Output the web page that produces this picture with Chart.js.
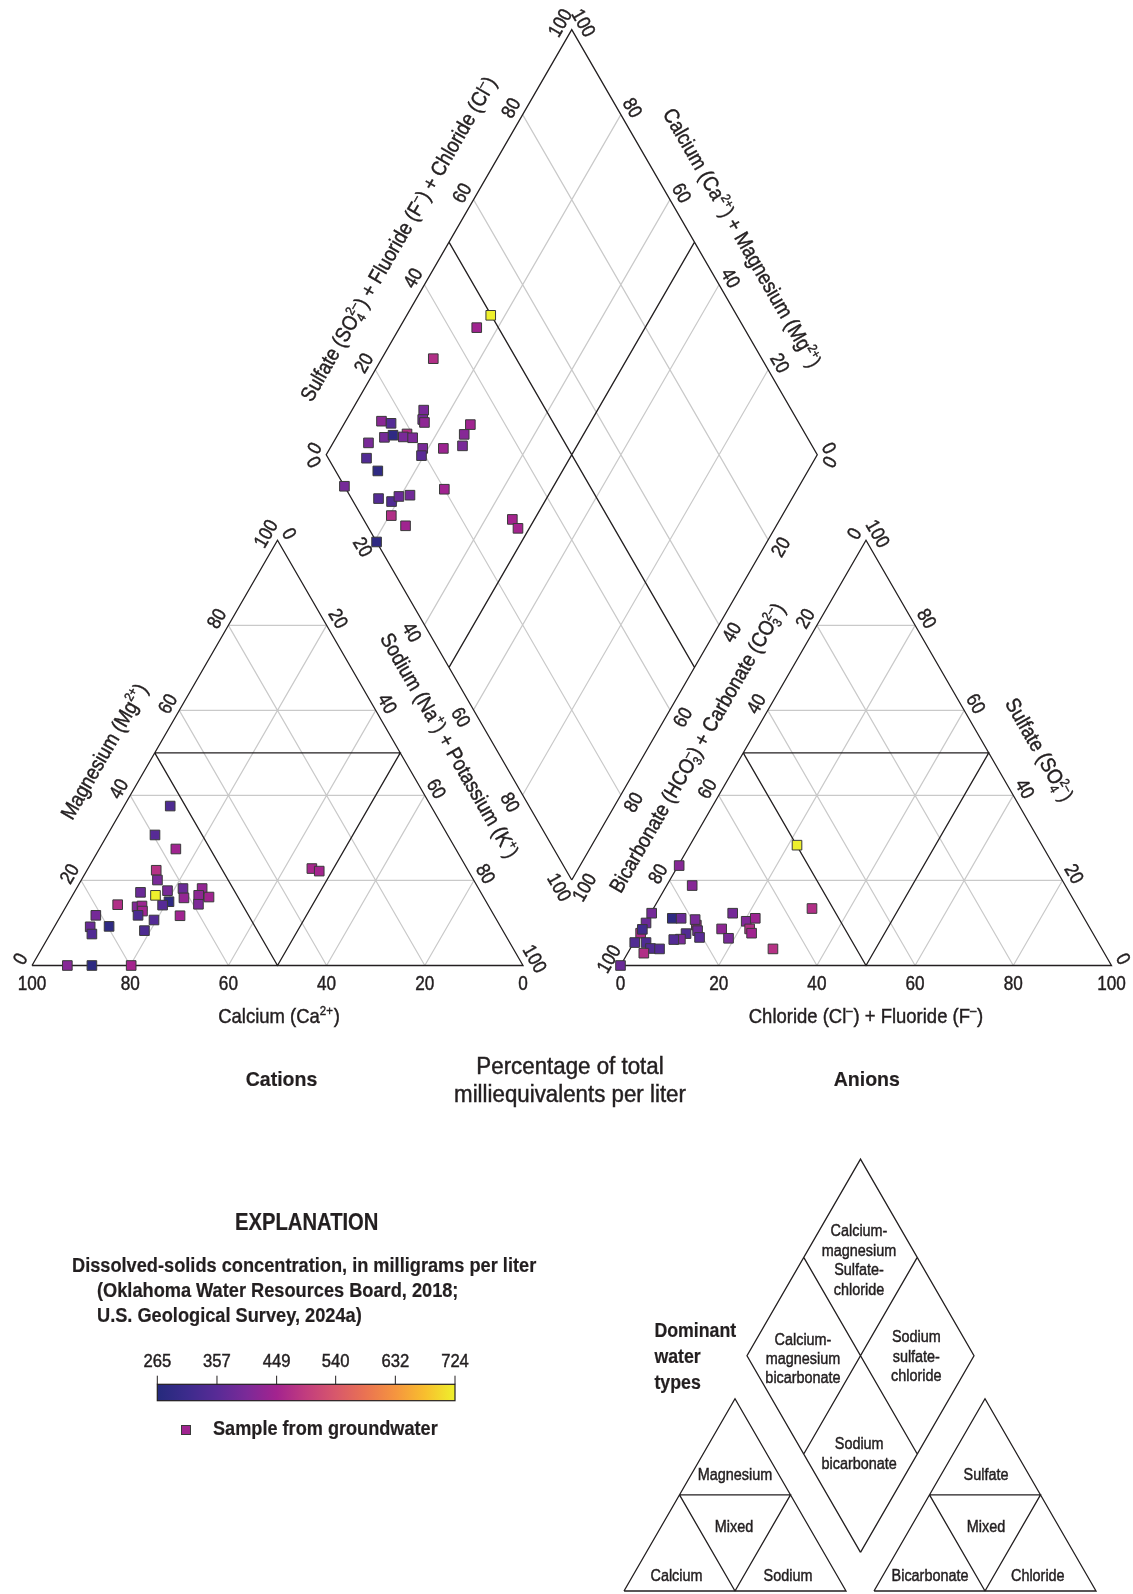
<!DOCTYPE html>
<html>
<head>
<meta charset="utf-8">
<title>Piper diagram – dissolved-solids concentration</title>
<script src="https://cdn.jsdelivr.net/npm/chart.js@4.4.1/dist/chart.umd.min.js"></script>
<style>
  html, body { margin: 0; padding: 0; background: #fff; }
  #piper { display: block; }
</style>
</head>
<body>
<canvas id="piper" width="1133" height="1594"></canvas>
<script>
/* Piper diagram of groundwater samples, coloured by dissolved solids.
   All values are percent of total milliequivalents per liter. */

// ---- cation triangle: magnesium and sodium + potassium (calcium is the rest)
const cationMg  = [37.5, 30.7, 27.4, 22.4, 20.1, 17.2, 17.6, 18.1, 18.1, 15.9, 16.5, 16.1, 14.4, 15.0, 14.2, 14.3,
                   13.8, 14.0, 12.8, 11.8, 10.7, 11.7, 11.8, 9.1, 7.4, 9.2, 8.2, 0, 0, 0, 22.8, 22.2, 16.5];
const cationNaK = [9.4, 9.7, 15.6, 14.1, 15.5, 13.5, 18.8, 21.7, 25.6, 23.0, 25.7, 28.0, 26.7, 20.4, 19.5, 10.3,
                   14.5, 15.4, 16.1, 15.7, 19.5, 24.3, 7.1, 7.3, 8.5, 11.1, 18.8, 7.2, 12.2, 20.2, 45.6, 47.4, 16.9];
const cationTds = [340, 355, 445, 475, 400, 380, 400, 380, 430, 430, 425, 445, 405, 285, 355, 470,
                   410, 440, 445, 335, 350, 445, 395, 380, 345, 285, 340, 415, 280, 450, 455, 450, 724];

// ---- anion triangle: sulfate and chloride + fluoride (bicarbonate + carbonate is the rest)
const anionSO4 = [23.5, 18.8, 13.4, 12.3, 10.0, 7.6, 8.5, 5.4, 5.4, 4.0, 2.9, 3.9, 0, 11.1, 11.1, 9.5, 10.8,
                  8.2, 7.5, 6.2, 6.1, 6.6, 12.3, 8.6, 6.4, 10.4, 11.1, 8.6, 7.6, 3.9, 28.3];
const anionClF = [0.2, 5.2, 32.3, 0.2, 0.2, 0.3, 0.2, 0.2, 2.5, 4.1, 3.3, 6.0, 0, 5.0, 6.8, 10.7, 9.8,
                  11.6, 9.6, 9.1, 7.8, 12.8, 16.7, 16.3, 18.8, 20.4, 21.9, 22.0, 22.9, 29.1, 21.8];
const anionTds = [415, 415, 470, 395, 380, 465, 320, 345, 340, 345, 470, 350, 380, 285, 380, 460, 400,
                  385, 345, 400, 350, 360, 395, 425, 400, 410, 440, 470, 445, 475, 724];

// ---- diamond: sulfate + fluoride + chloride and calcium + magnesium
const diamondSO4ClF = [45.6, 33.1, 25.1, 23.8, 23.8, 15.2, 16.9, 13.9, 18.9, 15.9, 17.8, 19.6, 10.0, 20.4, 19.3,
                       24.6, 32.9, 30.5, 28.8, 7.8, 8.6, 0.0, 5.5, 7.8, 9.9, 12.3, 20.0, 6.1, 7.8, 0.0, 30.3, 30.4, 49.9];
const diamondCaMg   = [84.3, 89.5, 85.4, 84.5, 83.8, 92.7, 90.5, 90.2, 86.0, 88.7, 86.4, 84.4, 92.8, 81.1, 80.5,
                       76.9, 74.2, 74.3, 73.3, 91.4, 87.6, 92.6, 84.2, 81.2, 80.3, 78.2, 71.9, 79.6, 75.5, 79.5, 54.5, 52.3, 82.9];
const diamondTds    = [445, 470, 400, 395, 425, 420, 350, 395, 470, 285, 400, 405, 400, 400, 360,
                       440, 445, 415, 400, 345, 285, 395, 350, 345, 380, 390, 445, 470, 445, 285, 450, 450, 724];

// ---- ticks
const GRID_STEPS = [20, 40, 60, 80];
const TICK_VALUES = [0, 20, 40, 60, 80, 100];
const TDS_TICKS = [265, 357, 449, 540, 632, 724];
const TDS_MIN = 265, TDS_MAX = 724;

// ---- colour ramp for dissolved solids (plasma-like)
const TDS_COLORS = ['#252a7c', '#3c2b8c', '#582b96', '#7b2a98', '#a3238f', '#c23d7e',
                    '#d8586b', '#ea7352', '#f5953f', '#f8bf2e', '#eef02c'];

function hexRgb(h) { return [1, 3, 5].map(i => parseInt(h.slice(i, i + 2), 16)); }
function tdsColor(v) {
  const t = Math.min(1, Math.max(0, (v - TDS_MIN) / (TDS_MAX - TDS_MIN))) * (TDS_COLORS.length - 1);
  const i = Math.min(Math.floor(t), TDS_COLORS.length - 2), f = t - i;
  const a = hexRgb(TDS_COLORS[i]), b = hexRgb(TDS_COLORS[i + 1]);
  return 'rgb(' + a.map((c, k) => Math.round(c + (b[k] - c) * f)).join(',') + ')';
}

// ---- layout (page units; x right, y down)
const R3 = Math.sqrt(3) / 2;
const SIDE = 491;
const BASE_Y = 965.5;

function makeTri(x0, y0, side) {
  return { bl: { x: x0, y: y0 }, br: { x: x0 + side, y: y0 }, top: { x: x0 + side / 2, y: y0 - side * R3 } };
}
function makeDiamond(bx, by, side) {
  const h = side * R3;
  return { bottom: { x: bx, y: by }, left: { x: bx - side / 2, y: by - h },
           right: { x: bx + side / 2, y: by - h }, top: { x: bx, y: by - 2 * h } };
}
// point from an origin corner plus fractions toward two other corners
function tern(o, a, b, fa, fb) {
  return { x: o.x + (a.x - o.x) * fa + (b.x - o.x) * fb, y: o.y + (a.y - o.y) * fa + (b.y - o.y) * fb };
}

const cat = makeTri(32, BASE_Y, SIDE);
const an = makeTri(620.5, BASE_Y, SIDE);
const dia = makeDiamond((cat.br.x + an.bl.x) / 2, 880, SIDE);

// small key figure
const keyDia = makeDiamond(860.5, 1552.3, 227);
const keyCat = makeTri(624, 1591, 222);
const keyAn = makeTri(874, 1591, 222);

// (top-corner %, right-corner %) for triangles, (to-right %, to-left %) for diamonds
const triPt = T => (a, b) => tern(T.bl, T.top, T.br, a / 100, b / 100);
const diaPt = D => (s, c) => tern(D.bottom, D.right, D.left, s / 100, c / 100);
const cationPt = triPt(cat), anionPt = triPt(an), diamondPt = diaPt(dia);

const GAP = { x: null, y: null };
function seg(list, p, q) { list.push(p, q, GAP); }
function poly(list, pts) { pts.forEach(p => list.push(p)); list.push(GAP); }

function triGrid(pt, out) {
  GRID_STEPS.forEach(k => {
    seg(out, pt(k, 0), pt(k, 100 - k));
    seg(out, pt(0, k), pt(100 - k, k));
    seg(out, pt(0, 100 - k), pt(100 - k, 0));
  });
}
function triFrame(pt, out) {
  poly(out, [pt(0, 0), pt(100, 0), pt(0, 100), pt(0, 0)]);
  poly(out, [pt(50, 0), pt(50, 50), pt(0, 50), pt(50, 0)]);
}
function diaGrid(pt, out) {
  GRID_STEPS.forEach(k => { seg(out, pt(k, 0), pt(k, 100)); seg(out, pt(0, k), pt(100, k)); });
}
function diaFrame(pt, out) {
  poly(out, [pt(0, 0), pt(100, 0), pt(100, 100), pt(0, 100), pt(0, 0)]);
  seg(out, pt(50, 0), pt(50, 100));
  seg(out, pt(0, 50), pt(100, 50));
}

const grayLines = [], blackLines = [];
triGrid(cationPt, grayLines); triGrid(anionPt, grayLines); diaGrid(diamondPt, grayLines);
triFrame(cationPt, blackLines); triFrame(anionPt, blackLines); diaFrame(diamondPt, blackLines);
diaFrame(diaPt(keyDia), blackLines); triFrame(triPt(keyCat), blackLines); triFrame(triPt(keyAn), blackLines);

const cationData = cationMg.map((mg, i) => cationPt(mg, cationNaK[i]));
const anionData = anionSO4.map((s, i) => anionPt(s, anionClF[i]));
const diamondData = diamondSO4ClF.map((s, i) => diamondPt(s, diamondCaMg[i]));

// ---- text
const INK = '#231f20';
const FAMILY = '"Liberation Sans", Arial, sans-serif';
const STYLE = {
  tick:   { size: 19.5, weight: 'normal', sx: 0.88 },
  title:  { size: 21,   weight: 'normal', sx: 0.88 },
  head:   { size: 21,   weight: 'bold',   sx: 0.93 },
  pct:    { size: 23,   weight: 'normal', sx: 0.97 },
  expl:   { size: 23,   weight: 'bold',   sx: 0.88 },
  source: { size: 20,   weight: 'bold',   sx: 0.91 },
  cbar:   { size: 17.5, weight: 'normal', sx: 0.95 },
  sample: { size: 19.5, weight: 'bold',   sx: 0.93 },
  key:    { size: 16,   weight: 'normal', sx: 0.9 },
  keyHead:{ size: 19.5, weight: 'bold',   sx: 0.91 }
};
const fontOf = (st, k = 1) => `${st.weight} ${st.size * k}px ${FAMILY}`;

function partWidth(ctx, st, p) {
  if (typeof p === 'string') { ctx.font = fontOf(st); return ctx.measureText(p).width; }
  ctx.font = fontOf(st, 0.62);
  return Math.max(p.sup ? ctx.measureText(p.sup).width : 0, p.sub ? ctx.measureText(p.sub).width : 0) + st.size * 0.04;
}

// parts: strings, or {sup, sub} for raised / lowered pieces
function drawText(ctx, parts, x, y, opt) {
  if (typeof parts === 'string') parts = [parts];
  const st = opt.st;
  const widths = parts.map(p => partWidth(ctx, st, p));
  const total = widths.reduce((a, b) => a + b, 0);
  ctx.save();
  ctx.translate(x, y);
  if (opt.angle) ctx.rotate(opt.angle * Math.PI / 180);
  ctx.scale(st.sx, 1);
  ctx.fillStyle = INK;
  ctx.strokeStyle = INK;
  ctx.lineWidth = st.weight === 'bold' ? 0.2 : 0.45;
  ctx.textAlign = 'left';
  ctx.textBaseline = 'alphabetic';
  let cx = opt.align === 'left' ? 0 : -total / 2;
  const by = opt.middle ? st.size * 0.36 : 0;
  const put = (t, px, py) => { ctx.fillText(t, px, py); ctx.strokeText(t, px, py); };
  parts.forEach((p, i) => {
    if (typeof p === 'string') {
      ctx.font = fontOf(st);
      put(p, cx, by);
    } else {
      ctx.font = fontOf(st, 0.62);
      if (p.sup) put(p.sup, cx, by - st.size * 0.4);
      if (p.sub) put(p.sub, cx, by + st.size * 0.2);
    }
    cx += widths[i];
  });
  ctx.restore();
}

const N_UL = [-R3, -0.5], N_UR = [R3, -0.5], N_LL = [-R3, 0.5], N_LR = [R3, 0.5];
const up = TICK_VALUES.map(String), down = up.slice().reverse();

// tick labels along an edge: [from, to, labels, outward normal, rotation]
const EDGE_TICKS = [
  [cat.bl, cat.top, up, N_UL, -60],
  [cat.top, cat.br, up, N_UR, 60],
  [an.bl, an.top, down, N_UL, -60],
  [an.br, an.top, up, N_UR, 60],
  [dia.left, dia.top, up, N_UL, -60],
  [dia.top, dia.right, down, N_UR, 60],
  [dia.left, dia.bottom, up, N_LL, 60],
  [dia.bottom, dia.right, down, N_LR, -60]
];
const TICK_OFFSET = 14;

// rotated axis titles: [from, to, fraction, normal, offset, rotation, parts]
const EDGE_TITLES = [
  [cat.bl, cat.top, 0.451, N_UL, 45, -60, ['Magnesium (Mg', { sup: '2+' }, ')']],
  [cat.top, cat.br, 0.537, N_UR, 47, 60, ['Sodium (Na', { sup: '+' }, ') + Potassium (K', { sup: '+' }, ')']],
  [an.bl, an.top, 0.462, N_UL, 43, -60, ['Bicarbonate (HCO', { sub: '3', sup: '–' }, ') + Carbonate (CO', { sub: '3', sup: '2–' }, ')']],
  [an.top, an.br, 0.546, N_UR, 46, 60, ['Sulfate (SO', { sub: '4', sup: '2–' }, ')']],
  [dia.left, dia.top, 0.454, N_UL, 46, -60, ['Sulfate (SO', { sub: '4', sup: '2–' }, ') + Fluoride (F', { sup: '–' }, ') + Chloride (Cl', { sup: '–' }, ')']],
  [dia.top, dia.right, 0.541, N_UR, 44, 60, ['Calcium (Ca', { sup: '2+' }, ') + Magnesium (Mg', { sup: '2+' }, ')']]
];

// plain text blocks: [parts, x, y, style, align, middle]
const TEXTS = [
  [['Calcium (Ca', { sup: '2+' }, ')'], 279, 1015.5, 'title', 'center', true],
  [['Chloride (Cl', { sup: '–' }, ') + Fluoride (F', { sup: '–' }, ')'], 866, 1015.5, 'title', 'center', true],
  ['Cations', 281.5, 1086, 'head', 'center', false],
  ['Anions', 866.8, 1086, 'head', 'center', false],
  ['Percentage of total', 570, 1073.5, 'pct', 'center', false],
  ['milliequivalents per liter', 570, 1102, 'pct', 'center', false],
  ['EXPLANATION', 306.7, 1230, 'expl', 'center', false],
  ['Dissolved-solids concentration, in milligrams per liter', 72, 1271.7, 'source', 'left', false],
  ['(Oklahoma Water Resources Board, 2018;', 97, 1296.7, 'source', 'left', false],
  ['U.S. Geological Survey, 2024a)', 97, 1321.7, 'source', 'left', false],
  ['Sample from groundwater', 213, 1435, 'sample', 'left', false],
  ['Dominant', 654.4, 1336.7, 'keyHead', 'left', false],
  ['water', 654.4, 1363.3, 'keyHead', 'left', false],
  ['types', 654.4, 1389.3, 'keyHead', 'left', false],
  ['Calcium-', 859, 1230.7, 'key', 'center', true],
  ['magnesium', 859, 1250.2, 'key', 'center', true],
  ['Sulfate-', 859, 1269.7, 'key', 'center', true],
  ['chloride', 859, 1289.2, 'key', 'center', true],
  ['Calcium-', 803, 1339.3, 'key', 'center', true],
  ['magnesium', 803, 1358.3, 'key', 'center', true],
  ['bicarbonate', 803, 1377.3, 'key', 'center', true],
  ['Sodium', 916.3, 1336.7, 'key', 'center', true],
  ['sulfate-', 916.3, 1356.2, 'key', 'center', true],
  ['chloride', 916.3, 1375.7, 'key', 'center', true],
  ['Sodium', 859.2, 1443.3, 'key', 'center', true],
  ['bicarbonate', 859.2, 1463.3, 'key', 'center', true],
  ['Magnesium', 735, 1474.3, 'key', 'center', true],
  ['Mixed', 734, 1526.7, 'key', 'center', true],
  ['Calcium', 676.5, 1575, 'key', 'center', true],
  ['Sodium', 788, 1575, 'key', 'center', true],
  ['Sulfate', 986, 1474.3, 'key', 'center', true],
  ['Mixed', 986, 1526.7, 'key', 'center', true],
  ['Bicarbonate', 930, 1575, 'key', 'center', true],
  ['Chloride', 1037.8, 1575, 'key', 'center', true]
];

const CBAR = { x0: 157.3, x1: 455, y0: 1384.3, y1: 1400.7, tickTop: 1375.7, labelY: 1367.3 };
const SAMPLE_MARK = { x: 186, y: 1430, size: 9, tds: 445 };

const textPlugin = {
  id: 'piperText',
  afterDatasetsDraw(chart) {
    const ctx = chart.ctx, sx = chart.scales.x, sy = chart.scales.y;
    const X = v => sx.getPixelForValue(v), Y = v => sy.getPixelForValue(v);

    // bottom tick labels of both triangles
    TICK_VALUES.forEach((v, i) => {
      const f = i / 5;
      drawText(ctx, String(100 - v), X(cat.bl.x + (cat.br.x - cat.bl.x) * f), Y(BASE_Y + 17), { st: STYLE.tick, middle: true });
      drawText(ctx, String(v), X(an.bl.x + (an.br.x - an.bl.x) * f), Y(BASE_Y + 17), { st: STYLE.tick, middle: true });
    });

    EDGE_TICKS.forEach(([p0, p1, labels, n, ang]) => {
      labels.forEach((t, i) => {
        const f = i / (labels.length - 1);
        const x = p0.x + (p1.x - p0.x) * f + n[0] * TICK_OFFSET;
        const y = p0.y + (p1.y - p0.y) * f + n[1] * TICK_OFFSET;
        drawText(ctx, t, X(x), Y(y), { st: STYLE.tick, angle: ang, middle: true });
      });
    });

    EDGE_TITLES.forEach(([p0, p1, f, n, off, ang, parts]) => {
      const x = p0.x + (p1.x - p0.x) * f + n[0] * off;
      const y = p0.y + (p1.y - p0.y) * f + n[1] * off;
      drawText(ctx, parts, X(x), Y(y), { st: STYLE.title, angle: ang, middle: true });
    });

    TEXTS.forEach(([parts, x, y, st, align, middle]) =>
      drawText(ctx, parts, X(x), Y(y), { st: STYLE[st], align, middle }));

    // colour bar
    const bx0 = X(CBAR.x0), bx1 = X(CBAR.x1), by0 = Y(CBAR.y0), by1 = Y(CBAR.y1);
    const grad = ctx.createLinearGradient(bx0, 0, bx1, 0);
    TDS_COLORS.forEach((c, i) => grad.addColorStop(i / (TDS_COLORS.length - 1), c));
    ctx.save();
    ctx.fillStyle = grad;
    ctx.fillRect(bx0, by0, bx1 - bx0, by1 - by0);
    ctx.strokeStyle = INK;
    ctx.lineWidth = 1.2;
    ctx.strokeRect(bx0, by0, bx1 - bx0, by1 - by0);
    ctx.lineWidth = 1;
    TDS_TICKS.forEach(v => {
      const x = X(CBAR.x0 + (v - TDS_MIN) / (TDS_MAX - TDS_MIN) * (CBAR.x1 - CBAR.x0));
      ctx.beginPath(); ctx.moveTo(x, Y(CBAR.tickTop)); ctx.lineTo(x, by0); ctx.stroke();
      drawText(ctx, String(v), x, Y(CBAR.labelY), { st: STYLE.cbar });
    });
    // legend sample marker
    const s = SAMPLE_MARK.size;
    ctx.fillStyle = tdsColor(SAMPLE_MARK.tds);
    ctx.strokeStyle = '#3a3a3a';
    ctx.lineWidth = 1;
    ctx.fillRect(X(SAMPLE_MARK.x) - s / 2, Y(SAMPLE_MARK.y) - s / 2, s, s);
    ctx.strokeRect(X(SAMPLE_MARK.x) - s / 2, Y(SAMPLE_MARK.y) - s / 2, s, s);
    ctx.restore();
  }
};

const pointStyle = tds => ({
  pointStyle: 'rect', pointRadius: 6.8, borderWidth: 1, borderColor: '#3a3a3a',
  backgroundColor: tds.map(tdsColor), order: 0
});
const lineStyle = (color, width, order) => ({
  showLine: true, borderColor: color, borderWidth: width, pointRadius: 0, spanGaps: false, fill: false, order
});

new Chart(document.getElementById('piper'), {
  type: 'scatter',
  data: {
    datasets: [
      { label: 'Cations', data: cationData, ...pointStyle(cationTds) },
      { label: 'Anions', data: anionData, ...pointStyle(anionTds) },
      { label: 'Combined', data: diamondData, ...pointStyle(diamondTds) },
      { label: 'Frames', data: blackLines, ...lineStyle(INK, 1.3, 1) },
      { label: 'Grid', data: grayLines, ...lineStyle('#c9c9c9', 1.2, 2) }
    ]
  },
  options: {
    responsive: false,
    animation: false,
    devicePixelRatio: 1,
    events: [],
    layout: { padding: 0, autoPadding: false },
    plugins: { legend: { display: false }, tooltip: { enabled: false } },
    scales: {
      x: { type: 'linear', min: 0, max: 1133, display: false },
      y: { type: 'linear', min: 0, max: 1594, reverse: true, display: false }
    }
  },
  plugins: [textPlugin]
});
</script>
</body>
</html>
